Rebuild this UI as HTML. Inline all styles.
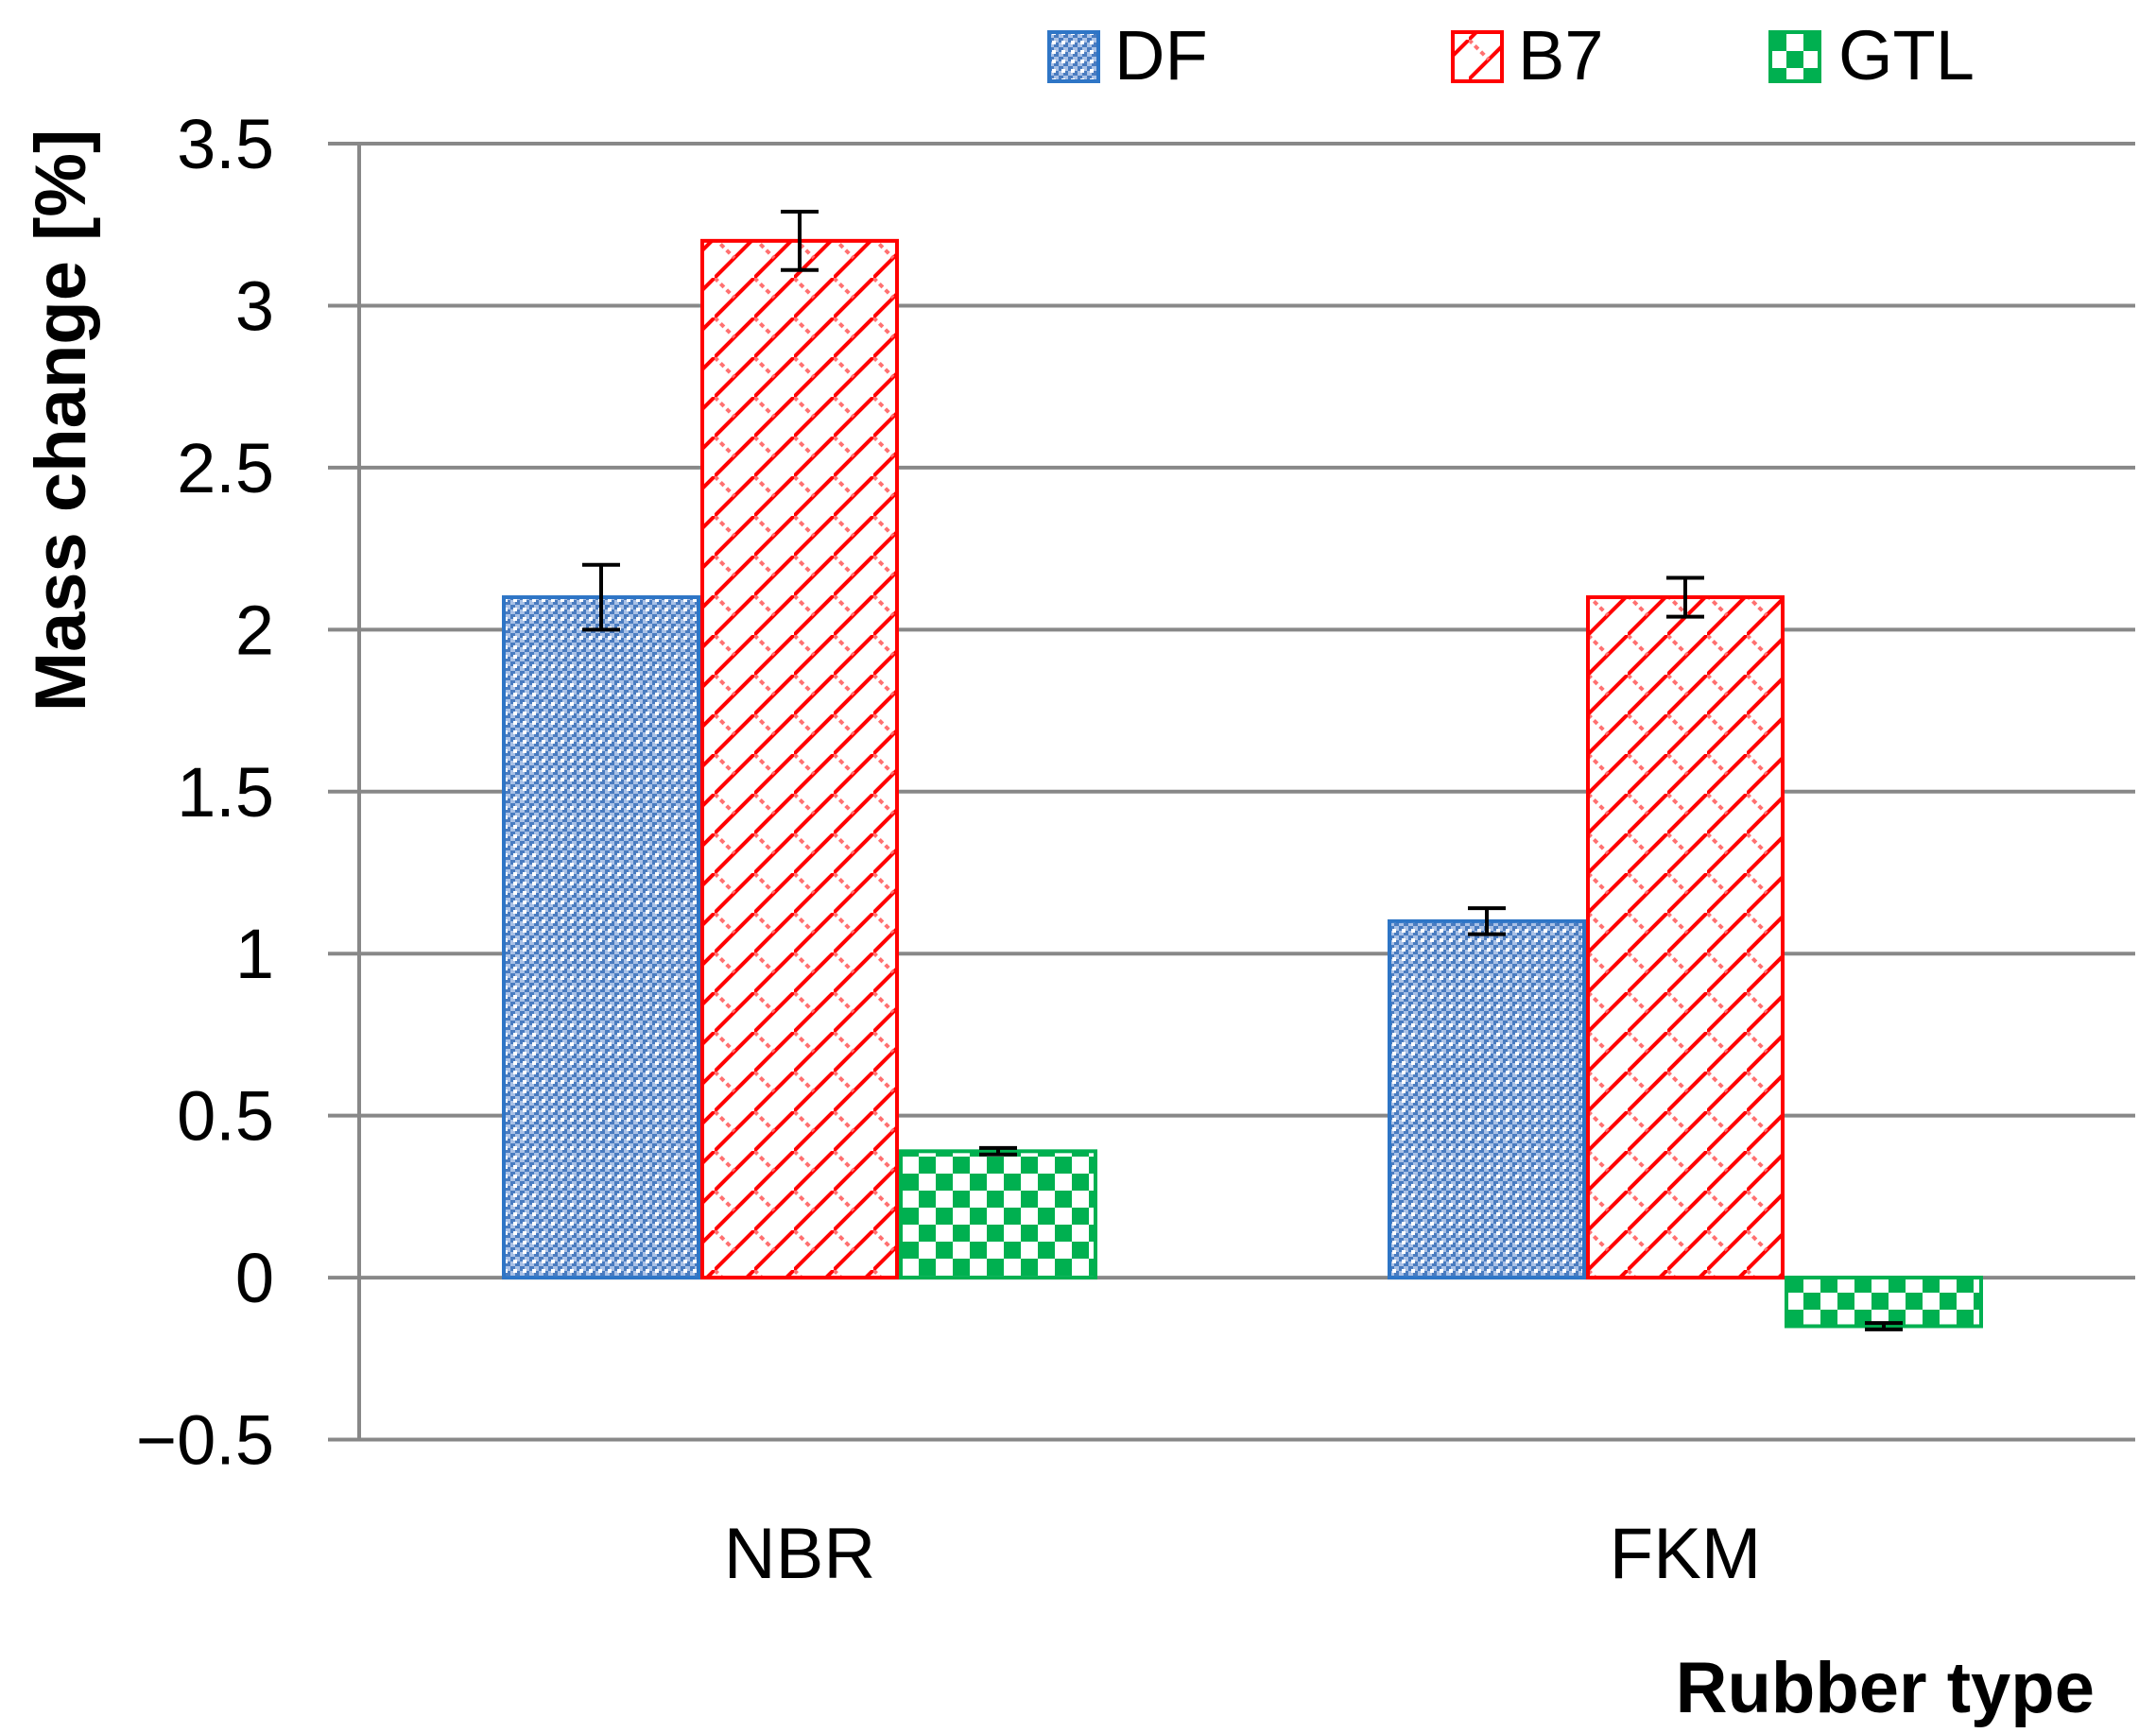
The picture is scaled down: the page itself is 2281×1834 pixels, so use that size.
<!DOCTYPE html>
<html><head><meta charset="utf-8"><style>
html,body{margin:0;padding:0;background:#fff;}
svg text{font-family:"Liberation Sans",sans-serif;}
</style></head><body>
<svg id="chart" width="2281" height="1829" viewBox="0 0 2281 1829" xmlns="http://www.w3.org/2000/svg">
<defs>
<pattern id="pDF" width="10" height="10" patternUnits="userSpaceOnUse">
<rect width="10" height="10" fill="#a9c1e6"/>
<rect x="0" y="0" width="5" height="5" fill="#4a7cc0"/>
<rect x="5" y="5" width="5" height="5" fill="#4a7cc0"/>
<rect x="3" y="3" width="4" height="4" fill="#ffffff"/>
</pattern>
<pattern id="pB7" width="42" height="42" patternUnits="userSpaceOnUse">
<rect width="42" height="42" fill="#fff"/>
<path d="M0 42 L42 0" stroke="#ff0000" stroke-width="4"/>
<path d="M0 0 L21 21" stroke="#ff7070" stroke-width="4" stroke-dasharray="5 4"/>
</pattern>
<pattern id="pGTL" width="36" height="36" patternUnits="userSpaceOnUse">
<rect width="36" height="36" fill="#fff"/>
<rect x="0" y="0" width="18" height="18" fill="#00b050"/>
<rect x="18" y="18" width="18" height="18" fill="#00b050"/>
</pattern>
</defs>
<g id="grid"></g>
<g id="bars"></g>
<g id="errs"></g>
<g id="labels"></g>
<text transform="translate(90,445) rotate(-90)" text-anchor="middle" font-size="76" font-weight="bold" fill="#000">Mass change [%]</text>
<text x="2216" y="1812" text-anchor="end" font-size="76" font-weight="bold" fill="#000">Rubber type</text>
<g>
<g><rect x="1110" y="34" width="52" height="52" fill="url(#pDF)" stroke="#2e75c6" stroke-width="4"/><text x="1179" y="84" font-size="74" fill="#000">DF</text></g>
<g><rect x="1537" y="34" width="52" height="52" fill="url(#pB7)" stroke="#ff0000" stroke-width="4"/><text x="1606" y="84" font-size="74" fill="#000">B7</text></g>
<g><rect x="1873" y="34" width="52" height="52" fill="url(#pGTL)" stroke="#00b050" stroke-width="4"/><text x="1945" y="84" font-size="74" fill="#000">GTL</text></g>
</g>
</svg>
<script>
const categories = ["NBR", "FKM"];
const seriesNames = ["DF", "B7", "GTL"];
const dfValues = [2.1, 1.1];
const b7Values = [3.2, 2.1];
const gtlValues = [0.39, -0.15];
const dfErrors = [0.1, 0.04];
const b7Errors = [0.09, 0.06];
const gtlErrors = [0.01, 0.01];
const yTicks = [3.5, 3, 2.5, 2, 1.5, 1, 0.5, 0, -0.5];
const yTickLabels = ["3.5", "3", "2.5", "2", "1.5", "1", "0.5", "0", "\u22120.5"];

const NS = "http://www.w3.org/2000/svg";
const plotL = 380, plotR = 2259, yTop = 152, yBot = 1523.5, yMax = 3.5, yMin = -0.5;
function yScale(v){ return yTop + (yMax - v) / (yMax - yMin) * (yBot - yTop); }
const catW = 937;
function xCenter(i){ return 846 + catW * i; }
const barW = 210;
function mk(tag, attrs, parent){ const e = document.createElementNS(NS, tag); for (const k in attrs) e.setAttribute(k, attrs[k]); parent.appendChild(e); return e; }

const grid = document.getElementById('grid');
const labels = document.getElementById('labels');
yTicks.forEach((t, i) => {
  const y = yScale(t);
  const l = mk('line', {x1: 347, x2: plotR, y1: y, y2: y, stroke: '#888', 'stroke-width': 4}, grid);
  
  
  const tx = mk('text', {x: 290, y: y + 26, 'text-anchor': 'end', 'font-size': 74, fill: '#000'}, labels);
  tx.textContent = yTickLabels[i];
  
  
});
const ax = mk('line', {x1: plotL, x2: plotL, y1: yTop, y2: yBot, stroke: '#888', 'stroke-width': 4}, grid);



categories.forEach((c, i) => {
  const tx = mk('text', {x: xCenter(i), y: 1670, 'text-anchor': 'middle', 'font-size': 76, fill: '#000'}, labels);
  tx.textContent = c;
  
  
});

const series = [
  {vals: dfValues, errs: dfErrors, fill: 'url(#pDF)', stroke: '#2e75c6'},
  {vals: b7Values, errs: b7Errors, fill: 'url(#pB7)', stroke: '#ff0000'},
  {vals: gtlValues, errs: gtlErrors, fill: 'url(#pGTL)', stroke: '#00b050'}
];
const bars = document.getElementById('bars');
const errs = document.getElementById('errs');
series.forEach((s, si) => {
  s.vals.forEach((v, ci) => {
    const x = xCenter(ci) + (si - 1.5) * barW;
    const y0 = yScale(0), y1 = yScale(v);
    const r = mk('rect', {x: x + 2, y: Math.min(y0, y1), width: barW - 4, height: Math.abs(y1 - y0), fill: s.fill, stroke: s.stroke, 'stroke-width': 4}, bars);
    
    
    const cx = x + barW / 2;
    const ya = yScale(v + s.errs[ci]), yb = yScale(v - s.errs[ci]);
    const g = mk('g', {stroke: '#000', 'stroke-width': 4}, errs);
    
    
    mk('line', {x1: cx, x2: cx, y1: ya, y2: yb}, g);
    mk('line', {x1: cx - 20, x2: cx + 20, y1: ya, y2: ya}, g);
    mk('line', {x1: cx - 20, x2: cx + 20, y1: yb, y2: yb}, g);
  });
});
</script>
</body></html>
